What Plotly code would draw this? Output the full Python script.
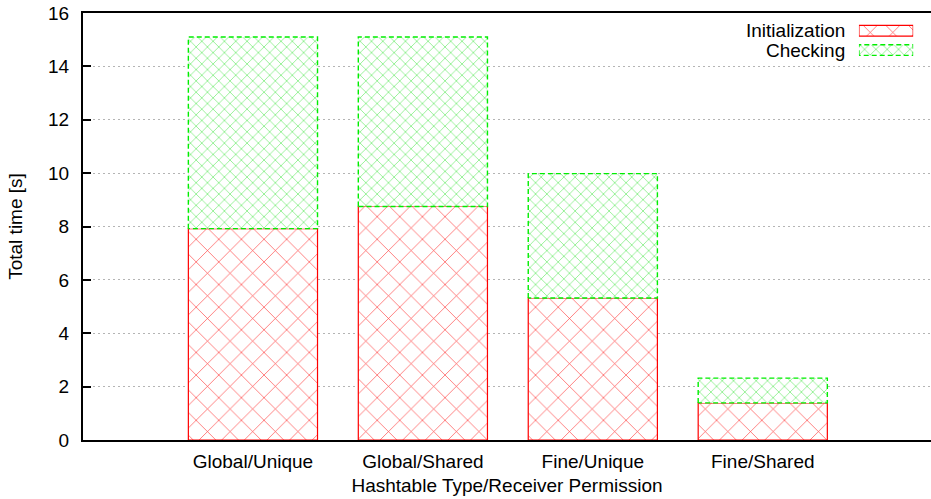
import plotly.graph_objects as go

# Stacked timing results per hashtable configuration
categories = ["Global/Unique", "Global/Shared", "Fine/Unique", "Fine/Shared"]
init_time = [7.92, 8.75, 5.32, 1.39]
check_time = [7.18, 6.35, 4.66, 0.93]
series_names = ["Initialization", "Checking"]
y_ticks = [0, 2, 4, 6, 8, 10, 12, 14, 16]

RED = "#ff0000"
GREEN = "#00ee00"
RED_HATCH = "rgba(255,40,40,0.9)"
GREEN_HATCH = "rgba(40,225,40,0.8)"
FONT = "Liberation Sans, Arial, sans-serif"
FS = 19
BAR_W = 0.76

xs = list(range(len(categories)))
totals = [a + b for a, b in zip(init_time, check_time)]

red_pattern = dict(shape="x", size=16, solidity=0.08, fgcolor=RED_HATCH,
                   bgcolor="white", fillmode="replace")
green_pattern = dict(shape="x", size=8, solidity=0.14, fgcolor=GREEN_HATCH,
                     bgcolor="white", fillmode="replace")

fig = go.Figure()

fig.add_trace(go.Bar(
    x=xs, y=init_time, width=BAR_W, name=series_names[0],
    marker=dict(color="white", line=dict(color=RED, width=1.2),
                pattern=red_pattern),
    showlegend=False,
))
fig.add_trace(go.Bar(
    x=xs, y=check_time, base=init_time, width=BAR_W, name=series_names[1],
    marker=dict(color="white", line=dict(width=0), pattern=green_pattern),
    showlegend=False,
))

# Dashed outline for the upper (Checking) segments
ox, oy = [], []
for x, b, t in zip(xs, init_time, totals):
    l, r = x - BAR_W / 2, x + BAR_W / 2
    ox += [l, l, r, r, l, None]
    oy += [b, t, t, b, b, None]
fig.add_trace(go.Scatter(
    x=ox, y=oy, mode="lines", line=dict(color=GREEN, width=1.4, dash="5px,3px"),
    hoverinfo="skip", showlegend=False,
))

# Key samples drawn on a small inset axis pair (text left, swatch right)
key_rows = [1, 0]
fig.add_trace(go.Bar(
    x=[1], y=[key_rows[0]], orientation="h", width=0.55, xaxis="x2", yaxis="y2",
    marker=dict(color="white", line=dict(color=RED, width=1.2),
                pattern=red_pattern),
    showlegend=False, hoverinfo="skip",
))
fig.add_trace(go.Bar(
    x=[1], y=[key_rows[1]], orientation="h", width=0.55, xaxis="x2", yaxis="y2",
    marker=dict(color="white", line=dict(width=0), pattern=green_pattern),
    showlegend=False, hoverinfo="skip",
))
kr = key_rows[1]
fig.add_trace(go.Scatter(
    x=[0, 0, 1, 1, 0], y=[kr - 0.275, kr + 0.275, kr + 0.275, kr - 0.275, kr - 0.275],
    mode="lines", xaxis="x2", yaxis="y2",
    line=dict(color=GREEN, width=1.4, dash="5px,3px"),
    showlegend=False, hoverinfo="skip",
))

annotations = []
for name, row in zip(series_names, key_rows):
    annotations.append(dict(
        text=name, x=0.901, xref="paper", xanchor="right",
        y=row, yref="y2", yanchor="middle", showarrow=False,
        font=dict(family=FONT, size=FS, color="black"),
    ))

fig.update_layout(
    width=931, height=499,
    margin=dict(l=83, r=0, t=13, b=59),
    paper_bgcolor="white", plot_bgcolor="white",
    barmode="overlay",
    font=dict(family=FONT, size=FS, color="black"),
    xaxis=dict(
        tickmode="array", tickvals=xs, ticktext=categories,
        range=[-1, 3.99], showgrid=False, zeroline=False,
        showline=True, linecolor="black", linewidth=2, mirror=True,
        ticks="", ticklabelstandoff=3,
        title=dict(text="Hashtable Type/Receiver Permission", standoff=8,
                   font=dict(size=FS)),
    ),
    yaxis=dict(
        range=[0, 16], tickmode="array", tickvals=y_ticks,
        showgrid=True, gridcolor="#b4b4b4", griddash="2px,3px", gridwidth=1,
        zeroline=False, showline=True, linecolor="black", linewidth=2,
        ticks="inside", ticklen=8, tickwidth=2, tickcolor="black",
        ticklabelstandoff=8,
        title=dict(text="Total time [s]", standoff=20, font=dict(size=FS)),
    ),
    xaxis2=dict(domain=[0.915, 0.979], range=[0, 1], visible=False,
                anchor="y2", fixedrange=True),
    yaxis2=dict(domain=[0.8907, 0.9811], range=[-0.5, 1.5], visible=False,
                anchor="x2", fixedrange=True),
    annotations=annotations,
)

fig.write_html("out.html")
